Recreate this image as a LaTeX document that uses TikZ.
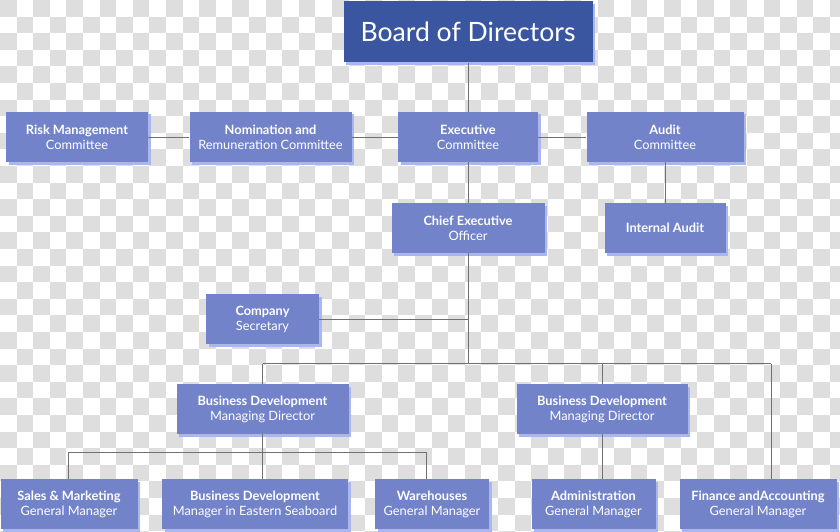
\documentclass[tikz,border=0pt]{standalone}
\usepackage{fontspec}
\setmainfont{Lato}
\usetikzlibrary{shadows}
\definecolor{boxblue}{HTML}{7383C9}
\definecolor{topblue}{HTML}{3B56A1}
\definecolor{shadeblue}{HTML}{AAB6EE}
\definecolor{linegray}{HTML}{707070}
\definecolor{checkgray}{HTML}{DEDEDE}
\tikzset{unit/.style = {shape=rectangle,fill=boxblue,text=white,align=center,inner sep=0pt,
    font=\fontsize{12.8}{15}\selectfont,
    drop shadow={shadow xshift=2.5pt,shadow yshift=-2.5pt,fill=shadeblue,opacity=1}}}
\tikzset{link/.style = {draw=linegray,line width=0.9pt}}
\newcommand{\ttl}[2]{\textbf{#1}\\#2}

\begin{document}
\begin{tikzpicture}[x=1pt,y=-1pt]
                \useasboundingbox (0,0) rectangle (840,532);
                \begin{scope}
                \clip (0,0) rectangle (840,532);
                \fill[white] (0,0) rectangle (840,532);
                \foreach \i in {0,...,50}{
                    \foreach \j in {0,...,32}{
                        \pgfmathtruncatemacro\k{mod(\i+\j,2)}
                        \ifnum\k=0 \fill[checkgray] (\i*16.6,\j*16.6) rectangle ++(16.6,16.6); \fi
                    }
                }
                \end{scope}
                \node[unit,fill=topblue,minimum width=249pt,minimum height=61pt,
                    font=\fontsize{26.6}{30}\selectfont] (BD) at (468,32) {Board of Directors};
                \node[unit,minimum width=142pt,minimum height=50pt] (RM) at (77,137) {\ttl{Risk Management}{Committee}};
                \node[unit,minimum width=162pt,minimum height=50pt] (NR) at (270.5,137) {\ttl{Nomination and}{Remuneration Committee}};
                \node[unit,minimum width=140pt,minimum height=50pt] (EC) at (468,137) {\ttl{Executive}{Committee}};
                \node[unit,minimum width=157pt,minimum height=50pt] (AC) at (665,137) {\ttl{Audit}{Committee}};
                \node[unit,minimum width=153pt,minimum height=50pt] (CEO) at (468,228) {\ttl{Chief Executive}{Officer}};
                \node[unit,minimum width=121pt,minimum height=50pt] (IA) at (665,228) {\textbf{Internal Audit}};
                \node[unit,minimum width=113pt,minimum height=50pt] (CS) at (262.5,319) {\ttl{Company}{Secretary}};
                \node[unit,minimum width=172pt,minimum height=50pt] (MD1) at (262.5,409) {\ttl{Business Development}{Managing Director}};
                \node[unit,minimum width=171pt,minimum height=50pt] (MD2) at (602,409) {\ttl{Business Development}{Managing Director}};
                \node[unit,minimum width=137pt,minimum height=50pt] (SM) at (69,504) {\ttl{Sales \& Marketing}{General Manager}};
                \node[unit,minimum width=186pt,minimum height=50pt] (BE) at (255,504) {\ttl{Business Development}{Manager in Eastern Seaboard}};
                \node[unit,minimum width=114pt,minimum height=50pt] (WH) at (432,504) {\ttl{Warehouses}{General Manager}};
                \node[unit,minimum width=124pt,minimum height=50pt] (AD) at (593.5,504) {\ttl{Administration}{General Manager}};
                \node[unit,minimum width=157pt,minimum height=50pt] (FA) at (758,504) {\ttl{Finance andAccounting}{General Manager}};
                \coordinate (T) at (468,363.5);
                \coordinate (F) at (771,363.5);
                \coordinate (L) at (68,452);
                \coordinate (W) at (426,452);
                \draw[link] (BD.south) -- (EC.north);
                \draw[link] (RM.east) -- (NR.west);
                \draw[link] (NR.east) -- (EC.west);
                \draw[link] (EC.east) -- (AC.west);
                \draw[link] (EC.south) -- (CEO.north);
                \draw[link] (AC.south) -- (IA.north);
                \draw[link] (CEO.south) -- (T);
                \draw[link] (CS.east) -- (CS.east -| T);
                \draw[link] (MD1.north |- T) -- (F);
                \draw[link] (MD1.north |- T) -- (MD1.north);
                \draw[link] (MD2.north |- T) -- (MD2.north);
                \draw[link] (F) -- (F |- FA.north);
                \draw[link] (MD1.south) -- (MD1.south |- BE.north);
                \draw[link] (MD2.south) -- (MD2.south |- AD.north);
                \draw[link] (L) -- (W);
                \draw[link] (L) -- (L |- SM.north);
                \draw[link] (W) -- (W |- WH.north);
            \end{tikzpicture}
\end{document}
